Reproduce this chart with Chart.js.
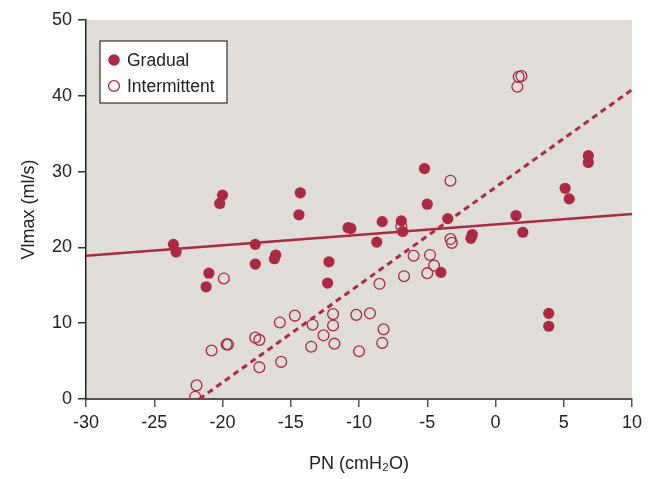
<!DOCTYPE html>
<html>
<head>
<meta charset="utf-8">
<script src="https://cdn.jsdelivr.net/npm/chart.js@4/dist/chart.umd.min.js"></script>
<style>
  body { margin: 0; background: #fff; }
  #wrap { width: 654px; height: 479px; }
</style>
</head>
<body>
<div id="wrap"><canvas id="grafico"></canvas></div>
<script>
// Gradual (punti pieni)
const gradualX = [-23.6, -23.4, -20.0, -20.2, -17.6, -17.6, -16.1, -16.2, -21.0, -21.2,
  -14.3, -14.4, -10.8, -10.6, -12.2, -12.3, -8.3, -8.7, -6.9, -6.8,
  -5.2, -5.0, -3.5, -4.0, -1.7, -1.8, 1.5, 2.0, 5.1, 5.4, 6.8, 6.8, 3.9, 3.9];
const gradualY = [20.4, 19.4, 26.9, 25.8, 20.4, 17.8, 19.0, 18.5, 16.6, 14.8,
  27.2, 24.3, 22.6, 22.5, 18.1, 15.3, 23.4, 20.7, 23.5, 22.1,
  30.4, 25.7, 23.8, 16.7, 21.7, 21.2, 24.2, 22.0, 27.8, 26.4, 32.1, 31.2, 11.3, 9.6];

// Intermittent (punti vuoti)
const interX = [-19.9, -20.8, -19.7, -19.6, -17.6, -17.3, -17.3, -15.8, -15.7, -21.9,
  -22.0, -14.7, -13.4, -13.5, -12.6, -11.9, -11.9, -11.8, -10.2, -9.2,
  -10.0, -8.2, -8.3, -8.5, -6.7, -6.0, -4.8, -4.5, -5.0, -3.3,
  -3.3, -3.2, -6.9, 1.9, 1.7, 1.6];
const interY = [15.9, 6.4, 7.2, 7.2, 8.1, 7.8, 4.2, 10.1, 4.9, 1.8,
  0.3, 11.0, 9.8, 6.9, 8.4, 11.2, 9.7, 7.3, 11.1, 11.3,
  6.3, 9.2, 7.4, 15.2, 16.2, 18.9, 19.0, 17.6, 16.6, 28.8,
  21.1, 20.6, 22.8, 42.6, 42.5, 41.2];

// Rette di regressione (estremi)
const lineaGradualX = [-30, 10];
const lineaGradualY = [18.9, 24.4];
const lineaInterX = [-21.7, 10];
const lineaInterY = [0, 40.8];

// Assi
const xMin = -30, xMax = 10, xStep = 5;
const yMin = 0, yMax = 50, yStep = 10;
const xTitolo = "PN (cmH\u2082O)";
const yTitolo = "Vlmax (ml/s)";

const ROSSO = "#aa2a43";
const FONT = "'Liberation Sans', Arial, sans-serif";

function punti(xs, ys) {
  return xs.map((x, i) => ({ x: x, y: ys[i] }));
}

// Sfondo area del grafico
const sfondo = {
  id: "sfondo",
  beforeDraw(chart) {
    const { ctx, chartArea: a } = chart;
    ctx.save();
    ctx.fillStyle = "#e0dcd8";
    ctx.fillRect(a.left, a.top, a.right - a.left, a.bottom - a.top);
    ctx.restore();
  },
};

// Legenda dentro l'area
const legenda = {
  id: "legenda",
  afterDraw(chart) {
    const ctx = chart.ctx;
    const a = chart.chartArea;
    const x0 = a.left + 14, y0 = a.top + 21;
    ctx.save();
    ctx.fillStyle = "#fff";
    ctx.fillRect(x0, y0, 127, 62);
    ctx.strokeStyle = "#333";
    ctx.lineWidth = 1.2;
    ctx.strokeRect(x0, y0, 127, 62);
    ctx.font = "17.5px " + FONT;
    ctx.textBaseline = "middle";
    const voci = chart.data.datasets.filter((d) => d.type === "scatter");
    voci.forEach((d, i) => {
      const cy = y0 + 19 + i * 26;
      ctx.beginPath();
      ctx.arc(x0 + 14, cy, i === 0 ? 5.8 : 5.4, 0, Math.PI * 2);
      if (i === 0) {
        ctx.fillStyle = ROSSO;
        ctx.fill();
      } else {
        ctx.strokeStyle = ROSSO;
        ctx.lineWidth = 1.3;
        ctx.stroke();
      }
      ctx.fillStyle = "#222";
      ctx.fillText(d.label, x0 + 27, cy + 1);
    });
    ctx.restore();
  },
};

new Chart(document.getElementById("grafico"), {
  data: {
    datasets: [
      {
        type: "line",
        label: "retta gradual",
        data: punti(lineaGradualX, lineaGradualY),
        borderColor: ROSSO,
        borderWidth: 2.6,
        pointRadius: 0,
        order: 3,
      },
      {
        type: "line",
        label: "retta intermittent",
        data: punti(lineaInterX, lineaInterY),
        borderColor: ROSSO,
        borderWidth: 3,
        borderDash: [6, 4.5],
        pointRadius: 0,
        order: 4,
      },
      {
        type: "scatter",
        label: "Gradual",
        data: punti(gradualX, gradualY),
        backgroundColor: ROSSO,
        borderColor: ROSSO,
        borderWidth: 0,
        pointRadius: 5.6,
        order: 1,
      },
      {
        type: "scatter",
        label: "Intermittent",
        data: punti(interX, interY),
        backgroundColor: "rgba(0,0,0,0)",
        borderColor: ROSSO,
        borderWidth: 1.3,
        pointRadius: 5.4,
        order: 2,
      },
    ],
  },
  options: {
    responsive: true,
    maintainAspectRatio: false,
    animation: false,
    layout: { padding: { left: 0, top: 20, right: 22, bottom: 0 } },
    plugins: {
      legend: { display: false },
      tooltip: { enabled: false },
    },
    scales: {
      x: {
        type: "linear",
        min: xMin,
        max: xMax,
        ticks: { stepSize: xStep, color: "#222", font: { family: FONT, size: 18 }, padding: 5, maxRotation: 0 },
        grid: { drawOnChartArea: false, drawTicks: true, tickLength: 8, color: "#555", lineWidth: 1.5 },
        border: { color: "#555", width: 2 },
        title: { display: true, text: xTitolo, color: "#222", font: { family: FONT, size: 18 }, padding: { top: 0, bottom: 4 } },
        afterFit(scale) { scale.height = 80; },
      },
      y: {
        type: "linear",
        min: yMin,
        max: yMax,
        ticks: { stepSize: yStep, color: "#222", font: { family: FONT, size: 18 }, padding: 6 },
        grid: { drawOnChartArea: false, drawTicks: true, tickLength: 8, color: "#333", lineWidth: 1.5 },
        border: { color: "#222", width: 1.5 },
        title: { display: true, text: yTitolo, color: "#222", font: { family: FONT, size: 18 }, padding: { top: 18, bottom: 0 } },
        afterFit(scale) { scale.width = 86; },
      },
    },
  },
  plugins: [sfondo, legenda],
});
</script>
</body>
</html>
